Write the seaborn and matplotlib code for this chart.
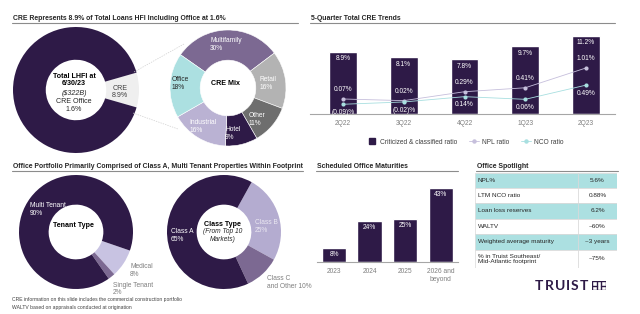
import numpy as np
import matplotlib.pyplot as plt
from matplotlib.lines import Line2D
from matplotlib.patches import Rectangle
import seaborn as sns

# ---- data ----
lhfi_labels = ['CRE', 'Other loans']
lhfi_values = [8.9, 91.1]

mix_labels = ['Multifamily', 'Retail', 'Other', 'Hotel', 'Industrial', 'Office']
mix_values = [30, 16, 11, 9, 16, 18]

quarters = ['2Q22', '3Q22', '4Q22', '1Q23', '2Q23']
criticized = [8.9, 8.1, 7.8, 9.7, 11.2]
npl = [0.07, 0.02, 0.29, 0.41, 1.01]
nco = [-0.09, -0.02, 0.14, 0.06, 0.49]

tenant_labels = ['Medical', 'Single Tenant', 'Multi Tenant']
tenant_values = [8, 2, 90]

class_labels = ['Class B', 'Class C and Other', 'Class A']
class_values = [25, 10, 65]

years = ['2023', '2024', '2025', '2026 and\nbeyond']
maturities = [8, 24, 25, 43]

spot_labels = ['NPL%', 'LTM NCO ratio', 'Loan loss reserves', 'WALTV',
               'Weighted average maturity', '% in Truist Southeast/\nMid-Atlantic footprint']
spot_values = ['5.6%', '0.88%', '6.2%', '~60%', '~3 years', '~75%']

# colours
PURPLE = '#2e1a47'
MID = '#7c6992'
LAV = '#bab2d3'
TEAL = '#ace0e1'
GREY_TXT = '#7f7f7f'
DARK_TXT = '#262626'
LINE = '#8c8c8c'

W, H = 640, 314
sns.set_theme(style='white')
plt.rcParams['font.family'] = ['Liberation Sans', 'DejaVu Sans']
fig = plt.figure(figsize=(6.4, 3.14), dpi=100)


def fx(x):
    return x / W


def fy(y):
    return 1 - y / H


def box(x, y, w, h):
    return fig.add_axes([x / W, 1 - (y + h) / H, w / W, h / H])


def section(x0, x1, y, text):
    fig.text(fx(x0 + 1), fy(y - 5), text, fontsize=4.95, weight='bold', color=DARK_TXT, va='center')
    fig.add_artist(Line2D([fx(x0), fx(x1)], [fy(y), fy(y)], color=LINE, lw=0.8))


def donut(cx, cy, r, values, colors, start, width, edge='none'):
    ax = box(cx - r, cy - r, 2 * r, 2 * r)
    wedges, _ = ax.pie(values, colors=colors, startangle=start, counterclock=False,
                       wedgeprops=dict(width=width, edgecolor=edge, linewidth=0.4))
    for w in wedges:
        w.set_clip_on(False)
    ax.set_xlim(-1, 1)
    ax.set_ylim(-1, 1)
    ax.axis('off')
    return ax


# ---- section titles ----
section(12, 298, 23, 'CRE Represents 8.9% of Total Loans HFI Including Office at 1.6%')
section(310, 615, 23, '5-Quarter Total CRE Trends')
section(12, 303, 171, 'Office Portfolio Primarily Comprised of Class A, Multi Tenant Properties Within Footprint')
section(316, 458, 171, 'Scheduled Office Maturities')
section(476, 618, 171, 'Office Spotlight')

# ---- total LHFI donut ----
fs = 4.8
ax = donut(76, 90, 63, lhfi_values, ['#efefef', PURPLE], 16.02, 0.52)
ax.text(-0.03, 0.16, 'Total LHFI at\n6/30/23', ha='center', va='center', fontsize=5.1,
        weight='bold', color='black', linespacing=1.15)
ax.text(-0.03, -0.05, '($322B)', ha='center', va='center', fontsize=5.1, style='italic', color=DARK_TXT)
ax.text(-0.03, -0.25, 'CRE Office\n1.6%', ha='center', va='center', fontsize=5.1, color=DARK_TXT,
        linespacing=1.15)
ax.text(0.70, -0.03, 'CRE\n8.9%', ha='center', va='center', fontsize=5.1, color='#404040', linespacing=1.15)

# connector lines
for (x0, y0), (x1, y1) in [((134, 72), (184, 44)), ((133, 113), (178, 129))]:
    fig.add_artist(Line2D([fx(x0), fx(x1)], [fy(y0), fy(y1)], color='#d0d0d0', lw=0.5, ls=(0, (2, 1.5))))

# ---- CRE mix donut ----
mix_colors = [MID, '#b3b3b3', '#6e6e6e', PURPLE, LAV, TEAL]
ax = donut(228, 88, 58, mix_values, mix_colors, 145, 0.52, edge='white')
mix_pos = [(-0.31, 0.75), (0.55, 0.07), (0.36, -0.54), (-0.05, -0.78), (-0.67, -0.67), (-0.97, 0.07)]
for lab, val, (px, py) in zip(mix_labels, mix_values, mix_pos):
    col = DARK_TXT if lab == 'Office' else 'white'
    ax.text(px, py, f'{lab}\n{val}%', ha='left', va='center', fontsize=fs, color=col, linespacing=1.2)
ax.text(-0.05, 0.08, 'CRE Mix', ha='center', va='center', fontsize=5.1, weight='bold', color='black')

# ---- 5-quarter trends ----
ax1 = box(310, 30, 305, 84)
xpos = np.arange(len(quarters))
sns.barplot(x=xpos, y=criticized, color=PURPLE, saturation=1, width=0.46, ax=ax1)
ax1.set_xlim(-0.543, 4.477)
ax1.set_ylim(0, 12)
ax1.set_xticks(xpos, quarters)
ax1.set_yticks([])
ax1.set_xlabel('')
ax1.tick_params(axis='x', length=0, pad=4, labelsize=fs, labelcolor=GREY_TXT)
for s in ['top', 'left', 'right']:
    ax1.spines[s].set_visible(False)
ax1.spines['bottom'].set_color('#a6a6a6')
ax1.spines['bottom'].set_linewidth(0.8)
for i, v in enumerate(criticized):
    ax1.annotate(f'{v}%', (i, v), xytext=(0, -5.2), textcoords='offset points',
                 ha='center', va='center', fontsize=fs, color='white')

ax2 = ax1.twinx()
sns.lineplot(x=xpos, y=npl, color='#c6bfdc', marker='o', markersize=3, markeredgewidth=0,
             lw=0.6, ax=ax2)
sns.lineplot(x=xpos, y=nco, color='#a8dfe0', marker='o', markersize=3, markeredgewidth=0,
             lw=0.6, ax=ax2)
ax2.set_ylim(-0.385, 2.16)
ax2.set_yticks([])
ax2.set_ylabel('')
for s in ax2.spines.values():
    s.set_visible(False)
for i, v in enumerate(npl):
    ax2.annotate(f'{v:.2f}%', (i, v), xytext=(0, 6.8), textcoords='offset points',
                 ha='center', va='center', fontsize=fs, color='white')
for i, v in enumerate(nco):
    lab = f'({abs(v):.2f})%' if v < 0 else f'{v:.2f}%'
    ax2.annotate(lab, (i, v), xytext=(0, -5.8), textcoords='offset points',
                 ha='center', va='center', fontsize=fs, color='white')

handles = [Line2D([0], [0], marker='s', ls='none', markersize=4.2, color=PURPLE),
           Line2D([0], [0], marker='o', markersize=2.2, lw=0.6, color='#c6bfdc'),
           Line2D([0], [0], marker='o', markersize=2.2, lw=0.6, color='#a8dfe0')]
ax1.legend(handles, ['Criticized & classified ratio', 'NPL ratio', 'NCO ratio'],
           loc='center', bbox_to_anchor=(fx(465), fy(142)), bbox_transform=fig.transFigure,
           ncol=3, frameon=False, fontsize=fs, handlelength=1.5, handletextpad=0.5,
           columnspacing=1.7, labelcolor='#404040')

# ---- tenant type donut ----
ax = donut(76, 232, 57, tenant_values, ['#c8c3e2', MID, PURPLE], -19, 0.52)
ax.text(-0.81, 0.40, 'Multi Tenant\n90%', ha='left', va='center', fontsize=fs, color='white', linespacing=1.2)
ax.text(-0.05, 0.12, 'Tenant Type', ha='center', va='center', fontsize=5.1, weight='bold', color='black')
ax.text(0.95, -0.675, 'Medical\n8%', ha='left', va='center', fontsize=fs, color=GREY_TXT, linespacing=1.2)
ax.text(0.65, -1.0, 'Single Tenant\n2%', ha='left', va='center', fontsize=fs, color=GREY_TXT, linespacing=1.05)

# ---- class type donut ----
ax = donut(224, 232, 57, class_values, ['#b4acd0', MID, PURPLE], 61, 0.52)
ax.text(-0.93, -0.07, 'Class A\n65%', ha='left', va='center', fontsize=fs, color='white', linespacing=1.2)
ax.text(-0.02, 0.14, 'Class Type', ha='center', va='center', fontsize=5.1, weight='bold', color='black')
ax.text(-0.02, -0.07, '(From Top 10\nMarkets)', ha='center', va='center', fontsize=4.8,
        style='italic', color=DARK_TXT, linespacing=1.2)
ax.text(0.54, 0.09, 'Class B\n25%', ha='left', va='center', fontsize=fs, color='#ebe8f2', linespacing=1.2)
ax.text(0.75, -0.89, 'Class C\nand Other 10%', ha='left', va='center', fontsize=fs, color=GREY_TXT,
        linespacing=1.2)

# ---- scheduled maturities ----
ax3 = box(317, 176, 141, 86)
ypos = np.arange(len(years))
sns.barplot(x=ypos, y=maturities, color=PURPLE, saturation=1, width=0.68, ax=ax3)
ax3.set_xlim(-0.479, 3.49)
ax3.set_ylim(0, 50)
ax3.set_xticks(ypos, years)
ax3.set_yticks([])
ax3.set_xlabel('')
ax3.tick_params(axis='x', length=0, pad=4, labelsize=fs, labelcolor=GREY_TXT)
for s in ['top', 'left', 'right']:
    ax3.spines[s].set_visible(False)
ax3.spines['bottom'].set_color('#a6a6a6')
ax3.spines['bottom'].set_linewidth(0.8)
for i, v in enumerate(maturities):
    ax3.annotate(f'{v}%', (i, v), xytext=(0, -4.8), textcoords='offset points',
                 ha='center', va='center', fontsize=fs, color='white')

# ---- office spotlight table ----
axt = box(475, 173, 142, 95)
axt.set_xlim(0, 142)
axt.set_ylim(95, 0)
axt.axis('off')
row_h = [14.5, 15.5, 15.5, 15, 16.5, 18]
y0 = 0
for i, (lab, val) in enumerate(zip(spot_labels, spot_values)):
    h = row_h[i]
    face = TEAL if i % 2 == 0 else 'white'
    axt.add_patch(Rectangle((0, y0), 103, h, facecolor=face, edgecolor='#d9d9d9', lw=0.5))
    axt.add_patch(Rectangle((103, y0), 39, h, facecolor=face, edgecolor='#d9d9d9', lw=0.5))
    axt.text(3, y0 + h / 2, lab, ha='left', va='center', fontsize=4.6, color=DARK_TXT, linespacing=1.0)
    axt.text(122.5, y0 + h / 2, val, ha='center', va='center', fontsize=4.6, color=DARK_TXT)
    y0 += h

# ---- logo ----
for ch, cx in zip('TRUIST', [539, 549, 560, 568, 574.5, 584]):
    fig.text(fx(cx), fy(285.5), ch, ha='center', va='center', fontsize=10, weight='bold',
             color=PURPLE, family=['Lato', 'DejaVu Sans'])
axl = box(592, 281, 14, 9)
axl.set_xlim(0, 14)
axl.set_ylim(9, 0)
axl.axis('off')
axl.add_patch(Rectangle((0.4, 0.4), 13.2, 8.2, fill=False, edgecolor=PURPLE, lw=1.0))
axl.plot([5, 5], [0.4, 8.6], color=PURPLE, lw=1.0)
axl.plot([9, 9], [0.4, 8.6], color=PURPLE, lw=1.0)
axl.plot([0.4, 5], [4.5, 4.5], color=PURPLE, lw=1.0)
axl.plot([9, 13.6], [4.5, 4.5], color=PURPLE, lw=1.0)

# ---- footnotes ----
fig.text(fx(12), fy(300), 'CRE information on this slide includes the commercial construction portfolio',
         fontsize=3.6, color='#404040', va='center')
fig.text(fx(12), fy(307), 'WALTV based on appraisals conducted at origination',
         fontsize=3.6, color='#404040', va='center')

fig.savefig('out.png', dpi=100)
